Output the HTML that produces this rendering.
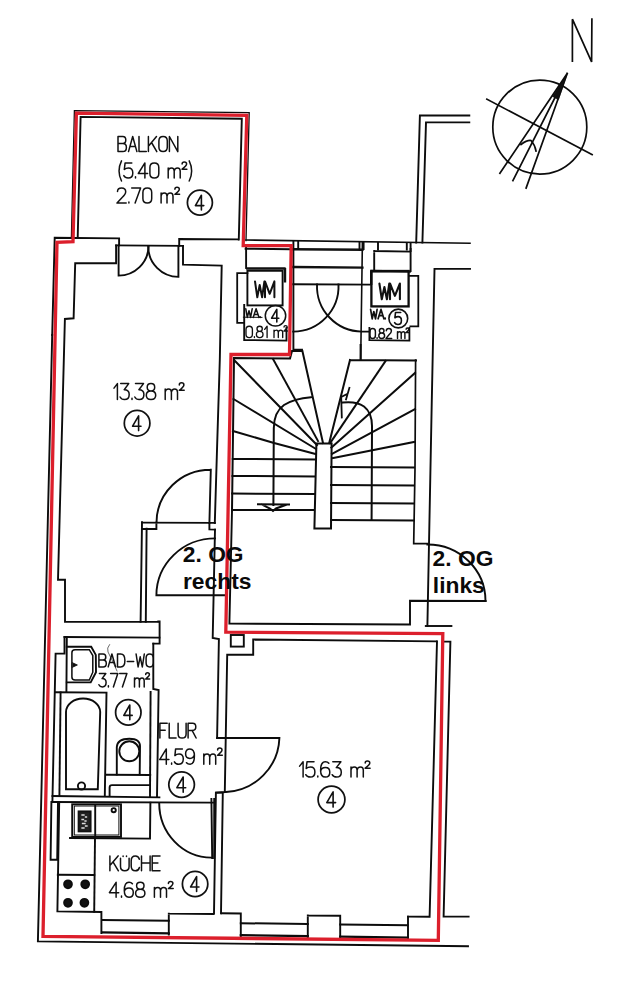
<!DOCTYPE html>
<html lang="de">
<head>
<meta charset="utf-8">
<title>Grundriss 2. OG</title>
<style>
html,body{margin:0;padding:0;background:#fff;}
body{width:626px;height:1000px;overflow:hidden;font-family:"Liberation Sans",sans-serif;}
svg{display:block;position:absolute;left:0;top:0;}
.k{fill:none;stroke:#0c0c0c;stroke-width:1.9;stroke-linecap:square;stroke-linejoin:miter;}
.k2{fill:none;stroke:#111;stroke-width:2.4;stroke-linecap:square;}
.k3{fill:none;stroke:#111;stroke-width:2.4;stroke-linecap:butt;}
.t{fill:none;stroke:#111;stroke-width:1;stroke-linecap:round;stroke-linejoin:round;}
.r{fill:none;stroke:#dc1f2c;stroke-width:3.3;stroke-linejoin:miter;}
.c{font-family:"Liberation Sans",sans-serif;fill:#1a1a1a;}
.b{font-family:"Liberation Sans",sans-serif;font-weight:bold;fill:#0a0a0a;font-size:22.8px;}
</style>
</head>
<body>
<svg width="626" height="1000" viewBox="0 0 626 1000">
<title>Grundriss 2. OG rechts</title>
<desc>Wohnungsgrundriss: Balkon (5.40 m²) 2.70 m², Zimmer 13.38 m², Zimmer 15.63 m², Bad-WC 3.77 m², Flur 4.59 m², Küche 4.68 m², WM/WA 0.81 m², 0.82 m². 2. OG rechts, 2. OG links. Nordpfeil N.</desc>
<rect x="0" y="0" width="626" height="1000" fill="#ffffff"/>

<!-- ===== COMPASS ===== -->
<g id="compass" class="k" style="stroke-width:1.7">
<circle cx="539.8" cy="127.1" r="47"/>
<path d="M486.9,99.2 L592.1,154.5"/>
<path d="M567.2,73.5 L499.9,173.2 M567.2,73.5 L512.9,180.7 M567.2,73.5 L526.1,188.1"/>
<path d="M567.2,73.5 L552.5,96.5 L558,99.5 Z" fill="#111" style="stroke-width:0.6"/>
<path d="M521,144.5 Q527,140 531,140.5 Q535,145 536,151"/>
<path d="M572.4,61.1 L572.4,19.2 L591.6,61.9 L591.9,19.2" style="stroke-width:1.7;stroke-linejoin:bevel"/>
</g>

<!-- ===== BLACK WALLS ===== -->
<g id="walls" class="k">
<!-- balcony inner -->
<path d="M77.7,237.8 L80.6,116.9 L241.8,118.8 L238.8,239.6"/>
<path d="M71.4,237.6 L74.4,110.6 L249.2,112.7 L246,240.6" style="stroke-width:1.3"/>
<!-- neighbour balcony -->
<path d="M469.3,115.5 L419.9,115.5 L416.2,242.6"/>
<path d="M469.3,122.4 L426,122.4 L422.4,242.6"/>
<!-- top wall, left room, door -->
<path d="M52.2,335 L54.7,237.8 L119.1,238.4 L119.1,245.4"/>
<path d="M116.1,245.4 L116.1,263.3 L75.2,263.3 L73.6,318.3 L64.9,319 L58,579.7 L65,579.7 L65,621.9 L158.3,621.9"/>
<path d="M116.1,245.4 L183,245.9"/>
<path d="M118.6,245.4 L118.6,275.6 A30,30 0 0 0 148.6,246.4"/>
<path d="M178.4,245.9 L178.4,276.9 A30.5,30.5 0 0 1 148.2,246.4"/>
<path d="M179.2,245.9 L179.2,239 L238,239.4"/>
<path d="M183,245.9 L183,264.6 L221.7,265.6 L219.8,360 L217,450 L214.8,523"/>
<path d="M246,240 L470,243.2" style="stroke-width:1.6"/>
<!-- room right of neighbour -->
<path d="M470,268.9 L434.5,268.9 L431.8,400 L427.4,626"/>
<!-- WM left -->
<path d="M246.1,247.5 L246.1,268"/>
<path class="k3" d="M246.1,268.5 L285.6,268.5 M285,268 L285,282.5"/>
<rect x="247.4" y="270.8" width="35.2" height="34.6" style="stroke-width:1.9"/>
<path d="M245.6,248.7 L290,249.2"/>
<path d="M243.4,317.2 L262,317.4" style="stroke-width:1"/>
<path d="M247.4,273.2 L237.2,273.2 L237.2,322.8 L243.6,322.8" style="stroke-width:1.8"/>
<path d="M244.2,305 L244.2,340 L286.5,340.6 L286.5,328"/>
<!-- between WMs -->
<path class="k2" d="M293.2,249.2 L362.4,249.8"/>
<path class="k2" d="M293.2,267 L362.4,267.6"/>
<path d="M293.2,284.2 L370,284.6"/>
<path d="M293.4,241 L293.4,349.8 L302,349.8"/>
<path d="M298.2,241 L298.2,249"/>
<path d="M359.5,242 L359.5,249.5"/>
<path d="M362.4,242 L360.7,360" style="stroke-width:1.6"/>
<path d="M338.5,284.4 A45.4,45.4 0 0 1 293.2,331.6"/>
<path d="M317,284.4 A45.4,45.4 0 0 0 362,331.6 L369.4,331.6"/>
<!-- WM right -->
<path d="M374.2,251 L410.6,251.6 M374.2,251 L374.2,270 M410.6,249 L410.6,271"/>
<path d="M363.6,243 L363.6,249 M378,243 L378,249.5 M406.8,243 L406.8,249.5 M410.6,243 L410.6,251"/>
<path class="k3" d="M370.3,271 L410.8,271.6 M371.2,271 L371.2,285"/>
<rect x="371.4" y="271" width="37.2" height="35.4" style="stroke-width:2.3"/>
<path d="M409.6,275.8 L418.3,275.8 L418.3,326.4 L410.4,326.4" style="stroke-width:1.8"/>
<path d="M369.4,327.8 L369.4,340.2 L409.4,340.6 L409.4,327.8" style="stroke-width:1.8"/>
</g>

<!-- ===== STAIRS ===== -->
<g id="stairs" class="k" style="stroke-width:2">
<!-- left flight outline -->
<path d="M232,510.5 L234,358 L290,358.4 L292,351 L302.4,351 L323,443"/>
<path d="M232,510 L314,510"/>
<!-- newel -->
<path d="M316.4,443.4 L331.6,443.4 L331,528.6 L314.4,528.6 Z"/>
<!-- left treads -->
<path d="M273,359 L318,441"/>
<path d="M235,361 L317,445"/>
<path d="M233.5,399 L316,449"/>
<path d="M233,431 L274,443 L315.5,454"/>
<path d="M232.8,459 L315.5,459.4"/>
<path d="M232.5,476 L315,476.4"/>
<path d="M232.2,493.6 L314.6,494"/>
<!-- left walking line -->
<path d="M273.4,505 L273.8,428 Q274,412 284,405 Q294,398.5 311,397.2"/>
<path d="M258,504.2 L289,504.6 M262,504.6 L270,508.5 L273,511 L276,508.5 L286,504.8"/>
<!-- right flight outline -->
<path d="M360.6,345 L360.6,360 M350,360 L416,360.4 M350,360 L329.2,443"/>
<path d="M415.6,360 L415,469 L413.7,543.7 L427.4,543.7" style="stroke-width:1.7"/>
<!-- right treads -->
<path d="M385.6,361 L330.5,442.6"/>
<path d="M415,373 L331.4,447.5"/>
<path d="M415,409 L332,454"/>
<path d="M414,442 L333,458"/>
<path d="M331,467 L414,467.6"/>
<path d="M331,485 L414,485.4"/>
<path d="M331,503 L414,503.4"/>
<path d="M331,520 L414,520.4"/>
<!-- right walking line -->
<path d="M371.6,519.6 L372,428 Q372.5,413 364,406.5 Q356,401 342.6,402.6"/>
<path d="M349.4,387.8 L346,399.5 M347.2,394 L341.2,397 L341.8,417.5" style="stroke-width:1.8"/>
</g>

<!-- ===== MID SECTION ===== -->
<g id="mid" class="k">
<!-- door left room -> hall -->
<path d="M210.8,469.7 L209.4,523 M210.8,469.7 A54,53 0 0 0 156.5,522.4"/>
<path d="M142,522.6 L214.8,522.9 M156.4,522.6 L156.4,529 M142,529 L156.4,529 M209.4,523 L209.4,529.4 L215,529.6"/>
<path d="M142,522.3 L140.6,621.9 M146.6,528.7 L145.8,621.9"/>
<path d="M215,529.6 L212.7,638 L218.9,639 L217.1,738"/>
<!-- entrance door -->
<path d="M215,538.4 A58.6,57 0 0 0 156.4,595.3 L227,595.3"/>
<!-- wall right of red along stairs -->
<path d="M232,511 L229.4,623.6 L410,624.5 L410,600.8 L485.6,601"/>
<path d="M427.4,544.5 A58,56.5 0 0 1 485.5,601"/>
<path d="M425.8,626 L451.4,626"/>
<!-- below red top of big room -->
<rect x="230.8" y="635" width="13" height="11.6"/>
<path d="M436.4,641.4 L253.2,639.5 L253.2,654.7 L227.2,654.7 L224.8,792 L215.9,792.7 L214,913.6"/>
<path d="M437,641.4 L429.6,916.8 L408,916.6"/>
<path d="M444.4,641.6 L450.4,641.6 L443.6,916.6 L468.6,916.6"/>
<!-- door flur -> big room -->
<path d="M217.1,738 L279.4,738 A56,56 0 0 1 226,792"/>
<!-- big room bottom / windows -->
<path d="M221.6,913.3 L240.8,913.5 L240.8,936 M307.8,915.5 L340.2,915.8 L340.2,938 M307.8,915.5 L307.8,937 M408,916.6 L408,938.5"/>
<path d="M240.8,923.2 L307.8,924 M340.2,924.4 L407.6,925.2" style="stroke-width:2"/>
<path d="M240.8,935.2 L307.8,936.2 M340.2,936.6 L407.7,937.6" style="stroke-width:2.2"/>
</g>

<!-- ===== BATH / KITCHEN ===== -->
<g id="bath" class="k">
<path d="M158.3,621.4 L159.6,621.4 L159.6,643.6 L153.3,643.6"/>
<path d="M64.5,637 L159.4,637.6"/>
<path d="M64.5,637 L64.5,653.6 L55.6,653.6 L52.4,802"/>
<path d="M66.8,639 L66.4,692"/>
<path d="M153.3,643.6 L153.3,689 L158.6,690 L157,797"/>
<path d="M150.6,692 L150,796"/>
<!-- sink -->
<path d="M66.8,646.8 L91.2,646.8 L95.8,654.9 L96,672.2 L90.7,682.4 L66.8,682.4"/>
<path d="M75,649.7 L89.3,649.7 L92.8,655.5 L92.8,672.2 L89.3,680 L75,680 Q71.9,680 71.9,677 L71.9,652.7 Q71.9,649.7 75,649.7 Z" style="stroke-width:1.5"/>
<path d="M72.6,662.8 L77.4,665 L72.6,667.2 Z" fill="#111" style="stroke-width:0.8"/>
<path d="M109.5,644.6 Q106.5,648 108,652 L112,660 L117,671" style="stroke-width:0.8;stroke:#444"/>
<!-- tub -->
<path d="M55.4,692.2 L106.5,692.6 L104.8,796"/>
<path d="M60.6,692.4 L59.4,796"/>
<path d="M66,789.3 L66,712 A17,13.5 0 0 1 100.2,712 L97.8,789.3 Z"/>
<circle cx="81.5" cy="786" r="3.6"/>
<!-- wc -->
<circle cx="129.3" cy="751.3" r="10"/>
<path d="M116.8,774.5 L116.8,747 Q117.5,738.8 129.3,738.8 Q140.5,738.8 140,747 L139.7,774.5"/>
<path d="M106.2,774.7 L150.2,775"/>
<path d="M150,785.1 L112,785.1 Q109.6,785.1 109.6,787.5 L109.6,796"/>
<!-- separation lines bath/kitchen -->
<path d="M52.5,796 L159.4,797.4"/>
<path d="M52.4,802 L213,802.6"/>
<!-- kitchen -->
<path d="M51.4,802 L50.6,859.8 L57.2,859.8 L58,802"/>
<path d="M59.2,802 L57.4,911.4 L101.4,912 L101.4,933"/>
<rect x="72.2" y="804.3" width="48.8" height="32.6"/>
<rect x="74.3" y="806" width="44.6" height="29" style="stroke-width:1"/>
<path d="M95.2,806 L95.2,835"/>
<rect x="78.6" y="811.4" width="12" height="20" fill="#222" stroke="#111"/>
<path d="M82,815 L84,815 M85.5,817 L86.5,817 M82,819.5 L83.5,819.5 M82.5,823.5 L85,823.5 M85.5,826 L87,826 M82,828 L84,828 M85,821 L86,821" style="stroke:#ddd;stroke-width:1.3"/>
<circle cx="113.7" cy="810.2" r="2.1"/>
<path d="M70,838 L150,838.6 L150.4,802.6"/>
<path d="M95,838.2 L94.2,911.8"/>
<path d="M57.8,874.7 L94.2,875"/>
<circle cx="68" cy="884.3" r="3.9" fill="#111"/><circle cx="85.2" cy="884.3" r="3.9" fill="#111"/>
<circle cx="68" cy="902.8" r="3.9" fill="#111"/><circle cx="84.4" cy="902.8" r="3.9" fill="#111"/>
<!-- kitchen window -->
<path d="M168.8,913.6 L168.8,934.6 M168.8,913.6 L213.4,914"/>
<path d="M102,920 L168.8,920.8" style="stroke-width:2"/>
<path d="M102,932.4 L168.8,933.4" style="stroke-width:2.2"/>
<!-- kitchen door -->
<path d="M159.2,803 A52.4,54.6 0 0 0 211.6,857.6"/>
<path d="M211.4,799 L212.2,858 M214.2,799 L214.2,858" />
<!-- wall right of kitchen -->
<path d="M216.3,792.6 L222.8,792.6 L221,913.4"/>
</g>

<!-- ===== OUTER BORDER LINES ===== -->
<g id="outer" class="k">
<path d="M52.2,335 L37.9,941.4 L468,946.2"/>
</g>

<!-- ===== RED OUTLINE ===== -->
<path class="r" d="M76.4,113.2 L246.8,115.3 L243.2,245.5 L291.2,245.7 L289.5,354.5 L231,354.5 L225.8,632.2 L442.8,633.6 L438.3,940.3 L43,936.4 L57,242.3 L73,241.7 Z"/>

<!-- CADTEXT-BEGIN -->
<g id="cadtext">
<path class="t" style="stroke-width:1.5" d="M 118.0,151.6 L 118.0,136.5 L 122.8,136.5 Q 125.8,136.5 125.8,140.1 Q 125.8,143.6 122.8,143.6 L 118.0,143.6 M 122.8,143.6 Q 126.4,143.6 126.4,147.5 Q 126.4,151.6 122.8,151.6 L 118.0,151.6 M 128.5,151.6 L 132.7,136.5 L 136.9,151.6 M 130.0,146.5 L 135.4,146.5 M 139.0,136.5 L 139.0,151.6 L 146.3,151.6 M 148.4,136.5 L 148.4,151.6 M 156.5,136.5 L 148.4,146.2 M 151.5,142.5 L 156.8,151.6 M 163.1,136.5 Q 158.9,136.5 158.9,141.0 L 158.9,147.1 Q 158.9,151.6 163.1,151.6 Q 167.3,151.6 167.3,147.1 L 167.3,141.0 Q 167.3,136.5 163.1,136.5 M 169.4,151.6 L 169.4,136.5 L 177.8,151.6 L 177.8,136.5"/>
<path class="t" style="stroke-width:1.5" d="M 121.5,160.8 Q 116.6,170.8 121.5,181.0 M 131.8,162.9 L 125.1,162.9 L 124.3,169.5 Q 126.0,168.0 128.4,168.0 Q 132.8,168.0 132.8,172.9 Q 132.8,178.0 128.1,178.0 Q 125.1,178.0 123.8,175.6 M 135.5,176.8 L 135.5,178.0 M 144.9,178.0 L 144.9,162.9 L 138.3,173.5 L 147.6,173.5 M 154.3,162.9 Q 149.9,162.9 149.9,167.4 L 149.9,173.5 Q 149.9,178.0 154.3,178.0 Q 158.8,178.0 158.8,173.5 L 158.8,167.4 Q 158.8,162.9 154.3,162.9 M 168.2,178.0 L 168.2,168.0 M 168.2,170.8 Q 168.7,168.0 171.5,168.0 Q 174.2,168.0 174.2,171.1 L 174.2,178.0 M 174.2,171.1 Q 174.7,168.0 177.5,168.0 Q 180.2,168.0 180.2,171.1 L 180.2,178.0 M 182.1,164.1 Q 182.1,162.1 184.3,162.1 Q 186.6,162.1 186.6,164.1 Q 186.6,165.8 182.1,169.2 L 186.9,169.2 M 189.2,160.8 Q 194.1,170.8 189.2,181.0"/>
<path class="t" style="stroke-width:1.5" d="M 117.5,191.6 Q 117.5,188.0 121.6,188.0 Q 125.7,188.0 125.7,191.8 Q 125.7,194.3 121.9,197.7 L 117.0,203.1 L 126.2,203.1 M 128.9,201.9 L 128.9,203.1 M 131.7,188.0 L 140.6,188.0 L 135.1,203.1 M 147.3,188.0 Q 142.9,188.0 142.9,192.5 L 142.9,198.6 Q 142.9,203.1 147.3,203.1 Q 151.7,203.1 151.7,198.6 L 151.7,192.5 Q 151.7,188.0 147.3,188.0 M 161.1,203.1 L 161.1,193.1 M 161.1,195.9 Q 161.5,193.1 164.3,193.1 Q 167.0,193.1 167.0,196.2 L 167.0,203.1 M 167.0,196.2 Q 167.5,193.1 170.3,193.1 Q 173.0,193.1 173.0,196.2 L 173.0,203.1 M 174.9,189.2 Q 174.9,187.2 177.0,187.2 Q 179.3,187.2 179.3,189.2 Q 179.3,190.9 174.9,194.3 L 179.6,194.3"/>
<circle class="t" style="stroke-width:1.75" cx="199.9" cy="202.6" r="12.5"/><path class="t" style="stroke-width:1.6" d="M 201.4,210.0 L 201.4,195.2 L 195.4,205.6 L 203.8,205.6"/>
<path class="t" style="stroke-width:1.5" d="M 114.0,388.1 L 117.4,383.6 L 117.4,399.6 M 120.7,383.6 L 128.7,383.6 L 124.2,389.7 Q 129.2,389.7 129.2,394.5 Q 129.2,399.6 124.5,399.6 Q 121.4,399.6 120.1,397.0 M 132.0,398.3 L 132.0,399.6 M 135.5,383.6 L 143.5,383.6 L 138.9,389.7 Q 143.9,389.7 143.9,394.5 Q 143.9,399.6 139.2,399.6 Q 136.1,399.6 134.8,397.0 M 151.0,383.6 Q 147.2,383.6 147.2,387.3 Q 147.2,391.0 151.0,391.0 Q 154.7,391.0 154.7,387.3 Q 154.7,383.6 151.0,383.6 M 151.0,391.0 Q 146.3,391.0 146.3,395.3 Q 146.3,399.6 151.0,399.6 Q 155.7,399.6 155.7,395.3 Q 155.7,391.0 151.0,391.0 M 165.2,399.6 L 165.2,389.0 M 165.2,391.9 Q 165.7,389.0 168.5,389.0 Q 171.4,389.0 171.4,392.2 L 171.4,399.6 M 171.4,392.2 Q 171.8,389.0 174.6,389.0 Q 177.5,389.0 177.5,392.2 L 177.5,399.6 M 179.3,384.9 Q 179.3,382.8 181.5,382.8 Q 183.9,382.8 183.9,384.9 Q 183.9,386.6 179.3,390.3 L 184.2,390.3"/>
<circle class="t" style="stroke-width:1.75" cx="137.1" cy="423.2" r="12.8"/><path class="t" style="stroke-width:1.6" d="M 138.6,430.6 L 138.6,415.8 L 132.6,426.2 L 141.0,426.2"/>
<path class="t" style="stroke-width:1.5" d="M 299.6,766.1 L 303.1,761.8 L 303.1,777.1 M 314.0,761.8 L 307.0,761.8 L 306.2,768.5 Q 308.0,767.0 310.5,767.0 Q 314.9,767.0 314.9,771.9 Q 314.9,777.1 310.2,777.1 Q 307.0,777.1 305.8,774.7 M 317.8,775.9 L 317.8,777.1 M 328.8,763.3 Q 327.7,761.8 325.4,761.8 Q 320.6,761.8 320.6,770.2 Q 320.6,777.1 325.4,777.1 Q 329.8,777.1 329.8,772.2 Q 329.8,767.6 325.4,767.6 Q 321.4,767.6 320.6,771.3 M 332.8,761.8 L 340.9,761.8 L 336.3,767.6 Q 341.3,767.6 341.3,772.2 Q 341.3,777.1 336.6,777.1 Q 333.4,777.1 332.2,774.7 M 351.0,777.1 L 351.0,767.0 M 351.0,769.8 Q 351.4,767.0 354.3,767.0 Q 357.1,767.0 357.1,770.1 L 357.1,777.1 M 357.1,770.1 Q 357.6,767.0 360.5,767.0 Q 363.3,767.0 363.3,770.1 L 363.3,777.1 M 365.2,763.0 Q 365.2,761.0 367.4,761.0 Q 369.8,761.0 369.8,763.0 Q 369.8,764.7 365.2,768.2 L 370.1,768.2"/>
<circle class="t" style="stroke-width:1.75" cx="331.5" cy="799.5" r="13.4"/><path class="t" style="stroke-width:1.6" d="M 333.1,807.1 L 333.1,791.9 L 326.8,802.6 L 335.6,802.6"/>
<path class="t" style="stroke-width:1.5" d="M 98.9,666.9 L 98.9,654.0 L 103.1,654.0 Q 105.8,654.0 105.8,657.1 Q 105.8,660.1 103.1,660.1 L 98.9,660.1 M 103.1,660.1 Q 106.3,660.1 106.3,663.4 Q 106.3,666.9 103.1,666.9 L 98.9,666.9 M 108.2,666.9 L 111.9,654.0 L 115.6,666.9 M 109.6,662.5 L 114.3,662.5 M 117.5,654.0 L 117.5,666.9 L 120.7,666.9 Q 124.9,666.9 124.9,660.5 Q 124.9,654.0 120.7,654.0 L 117.5,654.0 M 127.3,661.5 L 133.7,661.5 M 136.1,654.0 L 138.1,666.9 L 140.2,656.8 L 142.3,666.9 L 144.3,654.0 M 153.3,656.8 Q 152.6,654.0 149.8,654.0 Q 146.1,654.0 146.1,658.1 L 146.1,662.8 Q 146.1,666.9 149.8,666.9 Q 152.6,666.9 153.3,664.1"/>
<path class="t" style="stroke-width:1.5" d="M 99.4,673.5 L 105.8,673.5 L 102.1,678.6 Q 106.1,678.6 106.1,682.6 Q 106.1,686.9 102.4,686.9 Q 99.9,686.9 98.9,684.8 M 108.4,685.8 L 108.4,686.9 M 110.6,673.5 L 117.8,673.5 L 113.4,686.9 M 119.7,673.5 L 126.9,673.5 L 122.4,686.9 M 134.5,686.9 L 134.5,678.1 M 134.5,680.5 Q 134.9,678.1 137.1,678.1 Q 139.4,678.1 139.4,680.7 L 139.4,686.9 M 139.4,680.7 Q 139.8,678.1 142.0,678.1 Q 144.2,678.1 144.2,680.7 L 144.2,686.9 M 145.7,674.6 Q 145.7,672.8 147.5,672.8 Q 149.4,672.8 149.4,674.6 Q 149.4,676.0 145.7,679.1 L 149.6,679.1"/>
<circle class="t" style="stroke-width:1.75" cx="128.3" cy="712.4" r="12.7"/><path class="t" style="stroke-width:1.6" d="M 129.8,719.8 L 129.8,705.0 L 123.8,715.4 L 132.2,715.4"/>
<path class="t" style="stroke-width:1.5" d="M 159.9,738.0 L 159.9,723.3 L 167.2,723.3 M 159.9,730.2 L 165.2,730.2 M 169.2,723.3 L 169.2,738.0 L 176.1,738.0 M 178.1,723.3 L 178.1,733.9 Q 178.1,738.0 182.1,738.0 Q 186.1,738.0 186.1,733.9 L 186.1,723.3 M 188.1,738.0 L 188.1,723.3 L 192.6,723.3 Q 195.8,723.3 195.8,726.8 Q 195.8,730.4 192.6,730.4 L 188.1,730.4 M 192.1,730.4 L 196.1,738.0"/>
<path class="t" style="stroke-width:1.5" d="M 166.3,764.2 L 166.3,748.9 L 159.7,759.6 L 168.9,759.6 M 171.6,763.0 L 171.6,764.2 M 182.4,748.9 L 175.6,748.9 L 174.9,755.6 Q 176.5,754.1 179.0,754.1 Q 183.3,754.1 183.3,759.0 Q 183.3,764.2 178.7,764.2 Q 175.6,764.2 174.4,761.8 M 186.5,762.7 Q 187.7,764.2 190.2,764.2 Q 194.4,764.2 194.4,755.8 Q 194.4,748.9 189.9,748.9 Q 185.6,748.9 185.6,753.8 Q 185.6,758.4 189.9,758.4 Q 193.7,758.4 194.4,754.7 M 203.8,764.2 L 203.8,754.1 M 203.8,756.9 Q 204.2,754.1 207.0,754.1 Q 209.7,754.1 209.7,757.2 L 209.7,764.2 M 209.7,757.2 Q 210.2,754.1 213.0,754.1 Q 215.7,754.1 215.7,757.2 L 215.7,764.2 M 217.6,750.1 Q 217.6,748.1 219.7,748.1 Q 222.0,748.1 222.0,750.1 Q 222.0,751.8 217.6,755.3 L 222.3,755.3"/>
<circle class="t" style="stroke-width:1.75" cx="181.6" cy="784.6" r="12.8"/><path class="t" style="stroke-width:1.6" d="M 183.2,792.2 L 183.2,777.0 L 176.9,787.7 L 185.7,787.7"/>
<path class="t" style="stroke-width:1.5" d="M 109.9,855.9 L 109.9,870.8 M 118.1,855.9 L 109.9,865.4 M 113.0,861.9 L 118.4,870.8 M 120.5,858.3 L 120.5,866.6 Q 120.5,870.8 124.8,870.8 Q 129.1,870.8 129.1,866.6 L 129.1,858.3 M 123.1,855.9 L 123.1,856.6 M 126.5,855.9 L 126.5,856.6 M 139.4,859.2 Q 138.6,855.9 135.4,855.9 Q 131.2,855.9 131.2,860.7 L 131.2,866.0 Q 131.2,870.8 135.4,870.8 Q 138.6,870.8 139.4,867.5 M 141.5,855.9 L 141.5,870.8 M 150.1,855.9 L 150.1,870.8 M 141.5,862.9 L 150.1,862.9 M 160.0,855.9 L 152.2,855.9 L 152.2,870.8 L 160.0,870.8 M 152.2,862.9 L 157.9,862.9"/>
<path class="t" style="stroke-width:1.5" d="M 116.1,897.2 L 116.1,882.3 L 109.4,892.7 L 118.7,892.7 M 121.5,896.0 L 121.5,897.2 M 132.4,883.8 Q 131.3,882.3 129.0,882.3 Q 124.3,882.3 124.3,890.5 Q 124.3,897.2 129.0,897.2 Q 133.3,897.2 133.3,892.4 Q 133.3,888.0 129.0,888.0 Q 125.1,888.0 124.3,891.5 M 140.3,882.3 Q 136.6,882.3 136.6,885.7 Q 136.6,889.2 140.3,889.2 Q 144.0,889.2 144.0,885.7 Q 144.0,882.3 140.3,882.3 M 140.3,889.2 Q 135.6,889.2 135.6,893.2 Q 135.6,897.2 140.3,897.2 Q 144.9,897.2 144.9,893.2 Q 144.9,889.2 140.3,889.2 M 154.4,897.2 L 154.4,887.4 M 154.4,890.0 Q 154.9,887.4 157.7,887.4 Q 160.5,887.4 160.5,890.3 L 160.5,897.2 M 160.5,890.3 Q 160.9,887.4 163.7,887.4 Q 166.5,887.4 166.5,890.3 L 166.5,897.2 M 168.4,883.5 Q 168.4,881.6 170.6,881.6 Q 172.9,881.6 172.9,883.5 Q 172.9,885.1 168.4,888.6 L 173.2,888.6"/>
<circle class="t" style="stroke-width:1.75" cx="195.1" cy="884" r="12.7"/><path class="t" style="stroke-width:1.6" d="M 196.6,891.4 L 196.6,876.6 L 190.6,887.0 L 199.0,887.0"/>
<path class="t" style="stroke-width:2" d="M 255.0,281.4 L 257.3,297.3 L 259.7,284.9 L 262.1,297.3 L 264.4,281.4 M 265.0,297.3 L 265.0,281.4 L 269.7,293.8 L 274.4,281.4 L 274.4,297.3"/>
<path class="t" style="stroke-width:2.1" d="M 379.4,283.5 L 381.8,299.3 L 384.4,287.0 L 386.9,299.3 L 389.3,283.5 M 390.0,299.3 L 390.0,283.5 L 394.9,295.8 L 399.9,283.5 L 399.9,299.3"/>
<path class="t" style="stroke-width:1.5" d="M 245.8,308.8 L 247.3,317.4 L 249.0,310.7 L 250.6,317.4 L 252.2,308.8 M 253.2,317.4 L 256.1,308.8 L 259.0,317.4 M 254.2,314.5 L 257.9,314.5 M 260.2,316.7 L 260.2,317.4"/>
<path class="t" style="stroke-width:1.7" d="M 370.6,309.4 L 372.2,318.8 L 373.8,311.5 L 375.5,318.8 L 377.1,309.4 M 378.1,318.8 L 381.0,309.4 L 383.9,318.8 M 379.1,315.6 L 382.9,315.6 M 385.2,318.0 L 385.2,318.8"/>
<path class="t" style="stroke-width:1.35" d="M 249.2,326.2 Q 246.0,326.2 246.0,329.6 L 246.0,334.2 Q 246.0,337.6 249.2,337.6 Q 252.4,337.6 252.4,334.2 L 252.4,329.6 Q 252.4,326.2 249.2,326.2 M 254.4,336.7 L 254.4,337.6 M 259.7,326.2 Q 257.0,326.2 257.0,328.8 Q 257.0,331.4 259.7,331.4 Q 262.3,331.4 262.3,328.8 Q 262.3,326.2 259.7,326.2 M 259.7,331.4 Q 256.4,331.4 256.4,334.5 Q 256.4,337.6 259.7,337.6 Q 263.0,337.6 263.0,334.5 Q 263.0,331.4 259.7,331.4 M 264.7,329.4 L 267.1,326.2 L 267.1,337.6 M 274.0,337.6 L 274.0,330.1 M 274.0,332.1 Q 274.4,330.1 276.4,330.1 Q 278.3,330.1 278.3,332.4 L 278.3,337.6 M 278.3,332.4 Q 278.7,330.1 280.7,330.1 Q 282.7,330.1 282.7,332.4 L 282.7,337.6 M 284.0,327.1 Q 284.0,325.6 285.5,325.6 Q 287.2,325.6 287.2,327.1 Q 287.2,328.4 284.0,331.0 L 287.4,331.0"/>
<path class="t" style="stroke-width:1.45" d="M 372.7,328.4 Q 369.9,328.4 369.9,331.4 L 369.9,335.4 Q 369.9,338.4 372.7,338.4 Q 375.4,338.4 375.4,335.4 L 375.4,331.4 Q 375.4,328.4 372.7,328.4 M 377.1,337.6 L 377.1,338.4 M 381.7,328.4 Q 379.4,328.4 379.4,330.7 Q 379.4,333.0 381.7,333.0 Q 384.0,333.0 384.0,330.7 Q 384.0,328.4 381.7,328.4 M 381.7,333.0 Q 378.8,333.0 378.8,335.7 Q 378.8,338.4 381.7,338.4 Q 384.6,338.4 384.6,335.7 Q 384.6,333.0 381.7,333.0 M 386.3,330.8 Q 386.3,328.4 388.8,328.4 Q 391.4,328.4 391.4,330.9 Q 391.4,332.6 389.0,334.8 L 386.0,338.4 L 391.7,338.4 M 397.5,338.4 L 397.5,331.8 M 397.5,333.6 Q 397.8,331.8 399.5,331.8 Q 401.2,331.8 401.2,333.8 L 401.2,338.4 M 401.2,333.8 Q 401.5,331.8 403.2,331.8 Q 404.9,331.8 404.9,333.8 L 404.9,338.4 M 406.1,329.2 Q 406.1,327.9 407.4,327.9 Q 408.8,327.9 408.8,329.2 Q 408.8,330.3 406.1,332.6 L 409.0,332.6"/>
<circle class="t" style="stroke-width:1.5" cx="275.5" cy="315.7" r="10.2"/><path class="t" style="stroke-width:1.6" d="M 276.8,322.0 L 276.8,309.4 L 271.6,318.2 L 278.8,318.2"/>
<circle class="t" style="stroke-width:1.6" cx="398.3" cy="318.5" r="9.4"/><path class="t" style="stroke-width:1.6" d="M 400.7,312.5 L 395.5,312.5 L 394.9,317.8 Q 396.2,316.6 398.1,316.6 Q 401.4,316.6 401.4,320.4 Q 401.4,324.5 397.9,324.5 Q 395.5,324.5 394.6,322.6"/>
</g>
<!-- CADTEXT-END -->

<!-- ===== LABELS ===== -->
<g id="labels">
<text class="b" x="182.8" y="562">2. OG</text>
<text class="b" x="183" y="588.5">rechts</text>
<text class="b" x="432.6" y="566.3">2. OG</text>
<text class="b" x="432.8" y="593.2">links</text>
</g>
</svg>
</body>
</html>
